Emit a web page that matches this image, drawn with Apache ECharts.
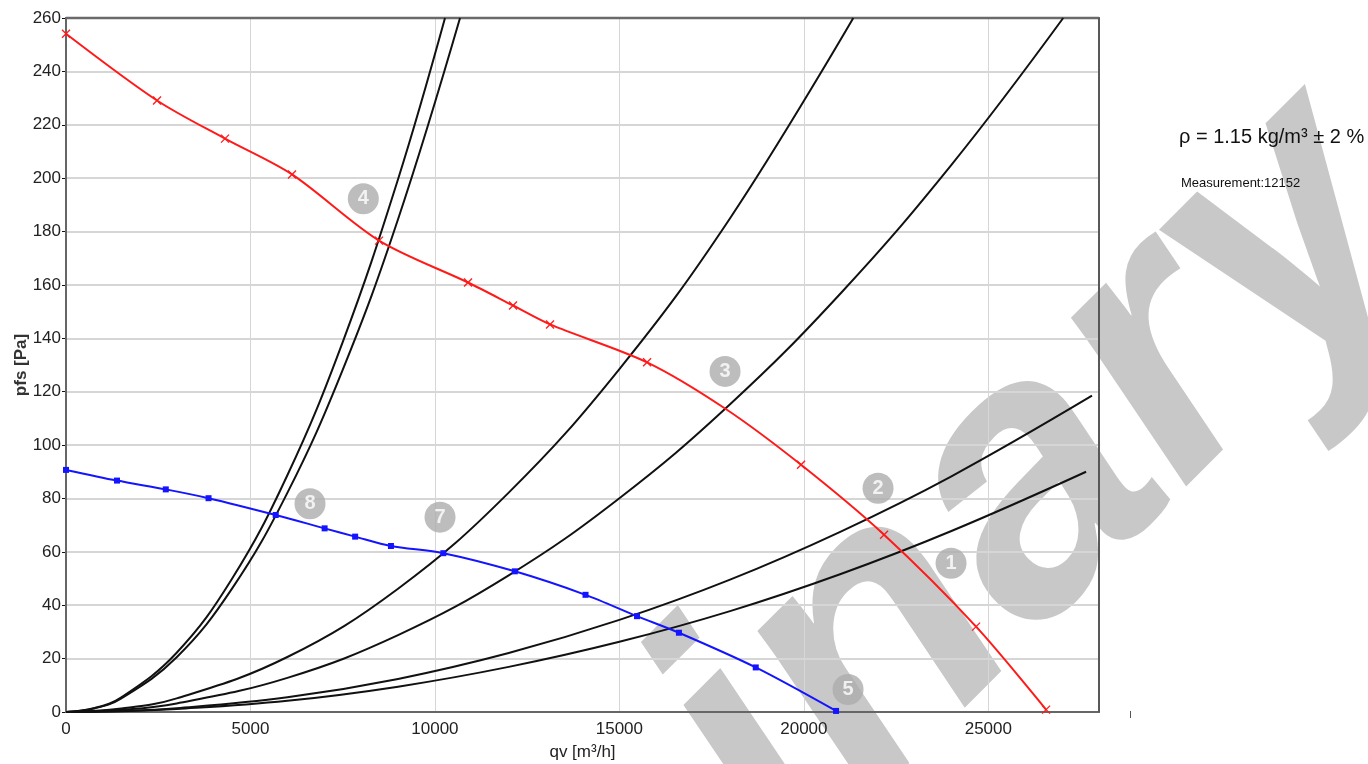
<!DOCTYPE html>
<html><head><meta charset="utf-8">
<script src="https://cdn.jsdelivr.net/npm/echarts@6/dist/echarts.min.js"></script>
<style>html,body{margin:0;padding:0;background:#fff}#c{width:1368px;height:764px}</style>
</head><body><div id="c"></div>
<script>
// ---- axis ranges / ticks ----
const xMin = 0, xMax = 28000, xStep = 5000;
const yMin = 0, yMax = 260, yStep = 20;
const xAxisName = 'qv [m³/h]';
const yAxisName = 'pfs [Pa]';

// ---- system curves (black), [qv, pfs] ----
const curve1 = [[0,0],[1500,0.3],[3000,1.1],[6000,4.2],[9000,9.5],[12000,16.9],[15000,26.3],[18000,37.8],[21000,51.7],[24000,67.8],[27650,90]];
const curve2 = [[0,0],[1500,0.35],[3000,1.4],[6000,5.5],[9000,12.4],[12000,22.1],[15000,34.5],[18000,49.6],[21000,67.6],[24000,88.3],[27810,118.5]];
const curve3 = [[0,0],[1500,0.8],[3000,3.2],[6000,12.8],[9000,28.8],[12000,51.2],[15000,80.1],[18000,115.3],[21000,156.9],[24000,205.0],[27030,260]];
const curve7 = [[0,0],[1500,1.3],[3000,5.1],[6000,20.6],[9000,46.2],[12000,82.2],[15000,128.5],[18000,185.0],[21340,260]];
const curve4a = [[0,0],[750,1.4],[1500,5.5],[3000,22.2],[4500,49.9],[6000,88.7],[7500,138.6],[9000,199.6],[10273,260]];
const curve4b = [[0,0],[750,1.3],[1500,5.1],[3000,20.5],[4500,46.2],[6000,82.1],[7500,128.2],[9000,184.6],[10680,260]];

// ---- fan curves ----
const redCurve = [[0,254.1],[2467,229.1],[4310,214.8],[6126,201.4],[8485,176.6],[10897,160.9],[12117,152.3],[13120,145.2],[15750,131.0],[17864,113.7],[19924,92.6],[22174,66.4],[24668,32.0],[26566,0.9]];
const redNoMarker = [17864];
const blueCurve = [[0,90.7],[1382,86.7],[2705,83.4],[3864,80.1],[5684,73.8],[7010,68.8],[7837,65.7],[8808,62.2],[10228,59.5],[12166,52.7],[14082,43.9],[15478,35.9],[16614,29.7],[18696,16.7],[20873,0.4]];

// ---- numbered badges ----
const badges = [[8059,192.3,'4'],[17864,127.6,'3'],[6614,78.0,'8'],[10138,73.0,'7'],[22011,83.8,'2'],[23990,55.7,'1'],[21198,8.4,'5']];

// ---- side texts ----
const densityText = 'ρ = 1.15 kg/m³ ± 2 %';
const measurementText = 'Measurement:12152';
const watermarkText = 'preliminary';

const FONT = "'Liberation Sans', Arial, sans-serif";
const chart = echarts.init(document.getElementById('c'), null, {renderer:'canvas'});

function blackLine(data){
  return {type:'line', data:data, smooth:0.4, showSymbol:false, symbol:'none',
    lineStyle:{color:'#111', width:2}, z:3, silent:true, animation:false, clip:true};
}

const xCross = 'path://M0,0L10,10M10,0L0,10';

const option = {
  animation:false,
  grid:{left:66, top:18, width:1033, height:694, show:true, borderColor:'#666', borderWidth:2, z:2,
    backgroundColor:'transparent', containLabel:false, outerBoundsMode:'none'},
  xAxis:{type:'value', min:xMin, max:xMax, interval:xStep, z:1,
    name:xAxisName, nameLocation:'middle', nameGap:32,
    nameTextStyle:{fontFamily:FONT, fontSize:17, color:'#222'},
    axisLine:{show:true, lineStyle:{color:'#111', width:2}},
    axisTick:{show:false},
    axisLabel:{fontFamily:FONT, fontSize:17, color:'#222', margin:9, showMaxLabel:false, formatter:v => String(v)},
    splitLine:{show:true, lineStyle:{color:'#d6d6d6', width:1}}
  },
  yAxis:{type:'value', min:yMin, max:yMax, interval:yStep, z:1,
    name:yAxisName, nameLocation:'middle', nameGap:36, nameMoveOverlap:false,
    nameTextStyle:{fontFamily:FONT, fontSize:17, color:'#333', fontWeight:'bold'},
    axisLine:{show:true, lineStyle:{color:'#111', width:2}},
    axisTick:{show:true, length:4, lineStyle:{color:'#111'}},
    axisLabel:{fontFamily:FONT, fontSize:17, color:'#222', margin:5, formatter:v => String(v)},
    splitLine:{show:true, lineStyle:{color:'#d6d6d6', width:2}}
  },
  graphic:[
    {type:'text', x:637, y:887, rotation:0.785, z:0, silent:true,
      style:{text:watermarkText, x:0, y:0, align:'center', verticalAlign:'middle',
        font:"italic bold 380px 'Liberation Sans', Arial, sans-serif", fill:'#c8c8c8'}},
    {type:'line', z:2, silent:true, shape:{x1:66, y1:18, x2:1099, y2:18}, style:{stroke:'#6a6a6a', lineWidth:2.5}},
    {type:'line', z:2, silent:true, shape:{x1:1099, y1:18, x2:1099, y2:712}, style:{stroke:'#555', lineWidth:1.5}},
    {type:'text', x:1179, y:137, z:5, style:{text:densityText, verticalAlign:'middle', font:"20px 'Liberation Sans', Arial, sans-serif", fill:'#111'}},
    {type:'text', x:1181, y:183, z:5, style:{text:measurementText, verticalAlign:'middle', font:"13px 'Liberation Sans', Arial, sans-serif", fill:'#111'}},
    {type:'rect', x:1130, y:711, z:5, shape:{width:1, height:7}, style:{fill:'#555'}}
  ],
  series:[
    blackLine(curve1), blackLine(curve2), blackLine(curve3), blackLine(curve7), blackLine(curve4a), blackLine(curve4b),
    {type:'line', data:redCurve.map(p => redNoMarker.includes(p[0]) ? {value:p, symbol:'none'} : {value:p}),
      smooth:0.3, symbol:xCross, symbolSize:8, showSymbol:true,
      lineStyle:{color:'#ff1a1a', width:2}, itemStyle:{color:'#ff1a1a', borderColor:'#ff1a1a', borderWidth:1.3}, z:4},
    {type:'line', data:blueCurve, smooth:0.3, symbol:'rect', symbolSize:6, showSymbol:true,
      lineStyle:{color:'#1414ff', width:2}, itemStyle:{color:'#1414ff'}, z:4},
    {type:'scatter', data:badges.map(b => ({value:[b[0],b[1]], name:b[2]})), symbol:'circle', symbolSize:31,
      itemStyle:{color:'#acacac'}, z:5,
      label:{show:true, position:'inside', formatter:p => p.name, color:'#fff', fontFamily:FONT, fontSize:20, fontWeight:'bold'}}
  ]
};
chart.setOption(option);
</script>
</body></html>
